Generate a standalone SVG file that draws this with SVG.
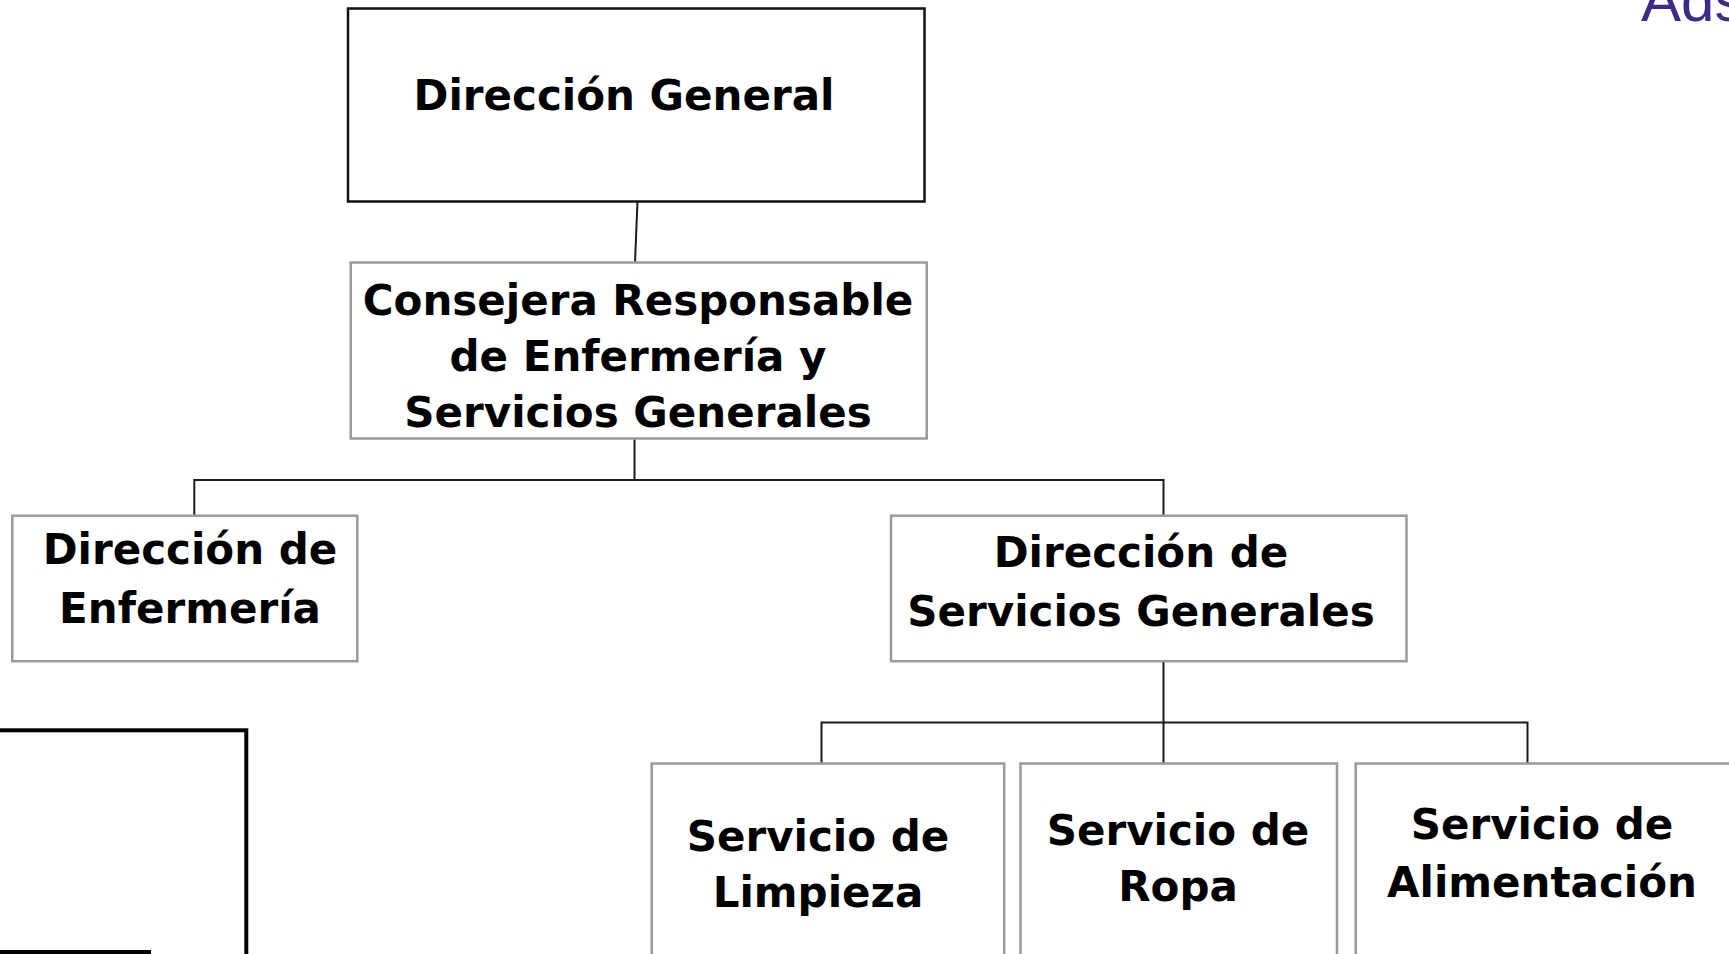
<svg xmlns="http://www.w3.org/2000/svg" width="1729" height="954" viewBox="0 0 1729 954">
<style>
.box{fill:#ffffff;stroke:#9a9a9a;stroke-width:2.5}
.boxb{fill:#ffffff;stroke:#111111;stroke-width:2.5}
.lbl{font-family:"DejaVu Sans","Verdana",sans-serif;font-weight:bold;font-size:42px;fill:#000000;text-anchor:middle}
.conn{stroke:#1a1a1a;stroke-width:2;fill:none}
</style>
<rect x="0" y="0" width="1729" height="954" fill="#ffffff"/>
<text x="1641" y="21" font-family="Liberation Sans, Arial, sans-serif" font-size="60" fill="#3d2b85">Ads</text>
<g id="connectors">
<line class="conn" x1="637.5" y1="201.5" x2="635" y2="262.5"/>
<line class="conn" x1="634.5" y1="438.5" x2="634.5" y2="480"/>
<polyline class="conn" points="194.3,515.7 194.3,480 1163.5,480 1163.5,515.7"/>
<line class="conn" x1="1163.5" y1="661.5" x2="1163.5" y2="763.5"/>
<polyline class="conn" points="821.5,763.5 821.5,722.5 1527.5,722.5 1527.5,763.5"/>
</g>
<g id="n-direccion-general">
<rect class="boxb" x="348" y="8.5" width="576.5" height="193"/>
<text class="lbl" x="624" y="110">Dirección General</text>
</g>
<g id="n-consejera">
<rect class="box" x="350.7" y="262.5" width="576" height="176"/>
<text class="lbl" x="638" y="315">Consejera Responsable</text>
<text class="lbl" x="638" y="371">de Enfermería y</text>
<text class="lbl" x="638" y="427">Servicios Generales</text>
</g>
<g id="n-enfermeria">
<rect class="box" x="12.3" y="515.7" width="345" height="145.5"/>
<text class="lbl" x="190" y="564">Dirección de</text>
<text class="lbl" x="190" y="623">Enfermería</text>
</g>
<g id="n-servicios-generales">
<rect class="box" x="891" y="515.7" width="515.5" height="145.5"/>
<text class="lbl" x="1141" y="567">Dirección de</text>
<text class="lbl" x="1141" y="626">Servicios Generales</text>
</g>
<g id="n-limpieza">
<rect class="box" x="651.7" y="763.5" width="352.5" height="260"/>
<text class="lbl" x="818" y="850.7">Servicio de</text>
<text class="lbl" x="818" y="906.7">Limpieza</text>
</g>
<g id="n-ropa">
<rect class="box" x="1020.5" y="763.5" width="316.5" height="260"/>
<text class="lbl" x="1178" y="845">Servicio de</text>
<text class="lbl" x="1178" y="901">Ropa</text>
</g>
<g id="n-alimentacion">
<rect class="box" x="1355.7" y="763.5" width="420" height="260"/>
<text class="lbl" x="1542" y="839.3">Servicio de</text>
<text class="lbl" x="1542" y="896.7">Alimentación</text>
</g>
<g id="n-bottom-left">
<rect x="-10" y="730.3" width="256.3" height="400" fill="#ffffff" stroke="#000000" stroke-width="4"/>
<line x1="0" y1="952" x2="151" y2="952" stroke="#000000" stroke-width="4"/>
</g>
</svg>
